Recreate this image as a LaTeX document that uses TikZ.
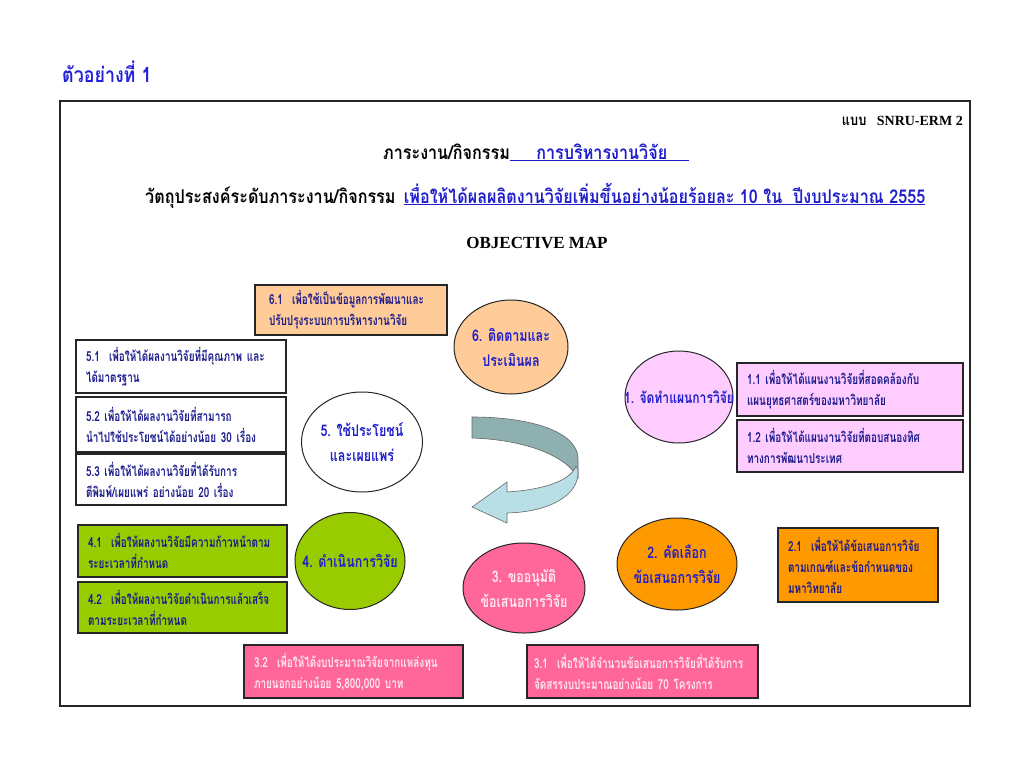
\documentclass[tikz,border=0pt]{standalone}
\usepackage{fontspec}
\usetikzlibrary{shapes.geometric}
\newfontfamily\thai[Script=Thai, FakeStretch=0.78]{Loma}
\newfontfamily\thaibox[Script=Thai, FakeStretch=0.72]{Loma}
\newfontfamily\thaihdr[Script=Thai, FakeStretch=0.85]{Loma}
\newfontfamily\lserif{Liberation Serif}
\definecolor{peach}{HTML}{FFCC99}
\definecolor{lilac}{HTML}{FFCCFF}
\definecolor{lime}{HTML}{99CC00}
\definecolor{rose}{HTML}{FF6699}
\definecolor{amber}{HTML}{FF9900}
\definecolor{navytxt}{HTML}{1A1A8C}
\definecolor{bluetxt}{HTML}{1E1ECC}
\definecolor{titleblue}{HTML}{2222DD}
\definecolor{palepink}{HTML}{FFE8F2}
\definecolor{arrdark}{HTML}{8FB0B0}
\definecolor{arrlight}{HTML}{B8DEE6}
\begin{document}
\begin{tikzpicture}[x=1pt,y=-1pt,
  objbox/.style={draw=black!85, line width=1.2pt, rectangle, inner xsep=10pt, inner ysep=2pt,
    align=left, text=navytxt, font=\thaibox\bfseries\fontsize{13.8}{21}\selectfont},
  stage/.style={draw=black!85, line width=1pt, ellipse, inner sep=0pt},
  stagetxt/.style={inner sep=0pt, align=center, text=bluetxt, font=\thai\bfseries\fontsize{16}{25}\selectfont},
  hdr/.style={font=\thaihdr\bfseries\fontsize{19}{22}\selectfont, inner sep=0pt},
  hdrblue/.style={font=\thaihdr\bfseries\fontsize{19}{22}\selectfont, inner sep=0pt, text=bluetxt}
]
\useasboundingbox[fill=white] (0,0) rectangle (1024,768);

% title
\node[anchor=base west, inner sep=0pt, text=titleblue, font=\thaihdr\bfseries\fontsize{21}{24}\selectfont] (title) at (62,82) {ตัวอย่างที่ 1};

% frame
\draw[line width=1.3pt, black!85] (60,101) rectangle (970,706);

\node[anchor=base east, inner sep=0pt, font=\bfseries\fontsize{14}{16}\selectfont] (form) at (963,125) {{\thaihdr\fontsize{15}{16}\selectfont แบบ}~~{\lserif SNRU-ERM 2}};

\node[hdr, anchor=base west] (task) at (383,159) {ภาระงาน/กิจกรรม};
\node[hdrblue, anchor=base west] (taskv) at (task.base east) {\underline{\hspace{26pt}การบริหารงานวิจัย\hspace{22pt}}};

\node[hdr, anchor=base west] (obj) at (145,203) {วัตถุประสงค์ระดับภาระงาน/กิจกรรม};
\node[hdrblue, anchor=base west] (objv) at ([xshift=8pt]obj.base east) {\underline{เพื่อให้ได้ผลผลิตงานวิจัยเพิ่มขึ้นอย่างน้อยร้อยละ 10 ใน~~ปีงบประมาณ 2555}};

\node[inner sep=0pt, font=\lserif\bfseries\fontsize{17}{20}\selectfont] (omap) at (537,243) {OBJECTIVE MAP};

% curved arrow
\fill[arrdark, draw=black!60, line width=0.6pt] (472,417) .. controls (532,417) and (577,432) .. (578,458)
  -- (578,478) .. controls (568,458) and (530,440) .. (472,438) -- cycle;
\fill[arrlight, draw=black!60, line width=0.6pt] (507,492) .. controls (540,490) and (570,482) .. (576,466)
  -- (578,470) .. controls (580,496) and (548,512) .. (507,513)
  -- (507,523) -- (472,507) -- (507,482) -- cycle;

% stage ellipses
\node[stage, fill=peach, minimum width=114pt, minimum height=94pt] (e6) at (511,347) {};
\node[stagetxt] (t6) at (e6) {6. ติดตามและ\\ประเมินผล};
\node[stage, fill=white, minimum width=121pt, minimum height=100pt] (e5) at (362,442) {};
\node[stagetxt] (t5) at (e5) {5. ใช้ประโยชน์\\และเผยแพร่};
\node[stage, fill=lilac, minimum width=108pt, minimum height=92pt] (e1) at (679,397) {};
\node[stagetxt, font=\thai\bfseries\fontsize{15.5}{24}\selectfont] (t1) at (e1) {1. จัดทำแผนการวิจัย};
\node[stage, fill=lime, minimum width=110pt, minimum height=97pt] (e4) at (350,561) {};
\node[stagetxt] (t4) at (e4) {4. ดำเนินการวิจัย};
\node[stage, fill=rose, minimum width=122pt, minimum height=90pt] (e3) at (524,588) {};
\node[stagetxt, text=palepink] (t3) at (e3) {3. ขออนุมัติ\\ข้อเสนอการวิจัย};
\node[stage, fill=amber, minimum width=120pt, minimum height=92pt] (e2) at (677,564) {};
\node[stagetxt] (t2) at (e2) {2. คัดเลือก\\ข้อเสนอการวิจัย};

% objective boxes
\node[objbox, fill=peach, inner xsep=14pt, text width=164pt, minimum height=50pt] (b61) at (351,310) {6.1~~เพื่อใช้เป็นข้อมูลการพัฒนาและ\\ปรับปรุงระบบการบริหารงานวิจัย};

\node[objbox, fill=white, text width=190pt, minimum height=53pt] (b51) at (181,366.5) {5.1~~เพื่อให้ได้ผลงานวิจัยที่มีคุณภาพ และ\\ได้มาตรฐาน};
\node[objbox, fill=white, text width=190pt, minimum height=55pt] (b52) at (181,424.5) {5.2 เพื่อให้ได้ผลงานวิจัยที่สามารถ\\นำไปใช้ประโยชน์ได้อย่างน้อย 30 เรื่อง};
\node[objbox, fill=white, text width=190pt, minimum height=51pt] (b53) at (181,479.5) {5.3 เพื่อให้ได้ผลงานวิจัยที่ได้รับการ\\ตีพิมพ์/เผยแพร่ อย่างน้อย 20 เรื่อง};

\node[objbox, fill=lilac, text width=206pt, minimum height=53pt] (b11) at (850,389.5) {1.1 เพื่อให้ได้แผนงานวิจัยที่สอดคล้องกับ\\แผนยุทธศาสตร์ของมหาวิทยาลัย};
\node[objbox, fill=lilac, text width=206pt, minimum height=52pt] (b12) at (850,446) {1.2 เพื่อให้ได้แผนงานวิจัยที่ตอบสนองทิศ\\ทางการพัฒนาประเทศ};

\node[objbox, fill=lime, text width=189pt, minimum height=52pt] (b41) at (182.5,551) {4.1~~เพื่อให้ผลงานวิจัยมีความก้าวหน้าตาม\\ระยะเวลาที่กำหนด};
\node[objbox, fill=lime, text width=189pt, minimum height=51pt] (b42) at (182.5,607.5) {4.2~~เพื่อให้ผลงานวิจัยดำเนินการแล้วเสร็จ\\ตามระยะเวลาที่กำหนด};

\node[objbox, fill=amber, text width=140pt, minimum height=74pt] (b21) at (858,565) {2.1~~เพื่อให้ได้ข้อเสนอการวิจัย\\ตามเกณฑ์และข้อกำหนดของ\\มหาวิทยาลัย};

\node[objbox, fill=rose, text=palepink, text width=199pt, minimum height=53pt] (b32) at (353.5,671.5) {3.2~~เพื่อให้ได้งบประมาณวิจัยจากแหล่งทุน\\ภายนอกอย่างน้อย 5,800,000 บาท};
\node[objbox, fill=rose, inner xsep=7pt, text=palepink, text width=217pt, minimum height=53pt] (b31) at (642.5,671.5) {3.1~~เพื่อให้ได้จำนวนข้อเสนอการวิจัยที่ได้รับการ\\จัดสรรงบประมาณอย่างน้อย 70 โครงการ};

\end{tikzpicture}
\end{document}
